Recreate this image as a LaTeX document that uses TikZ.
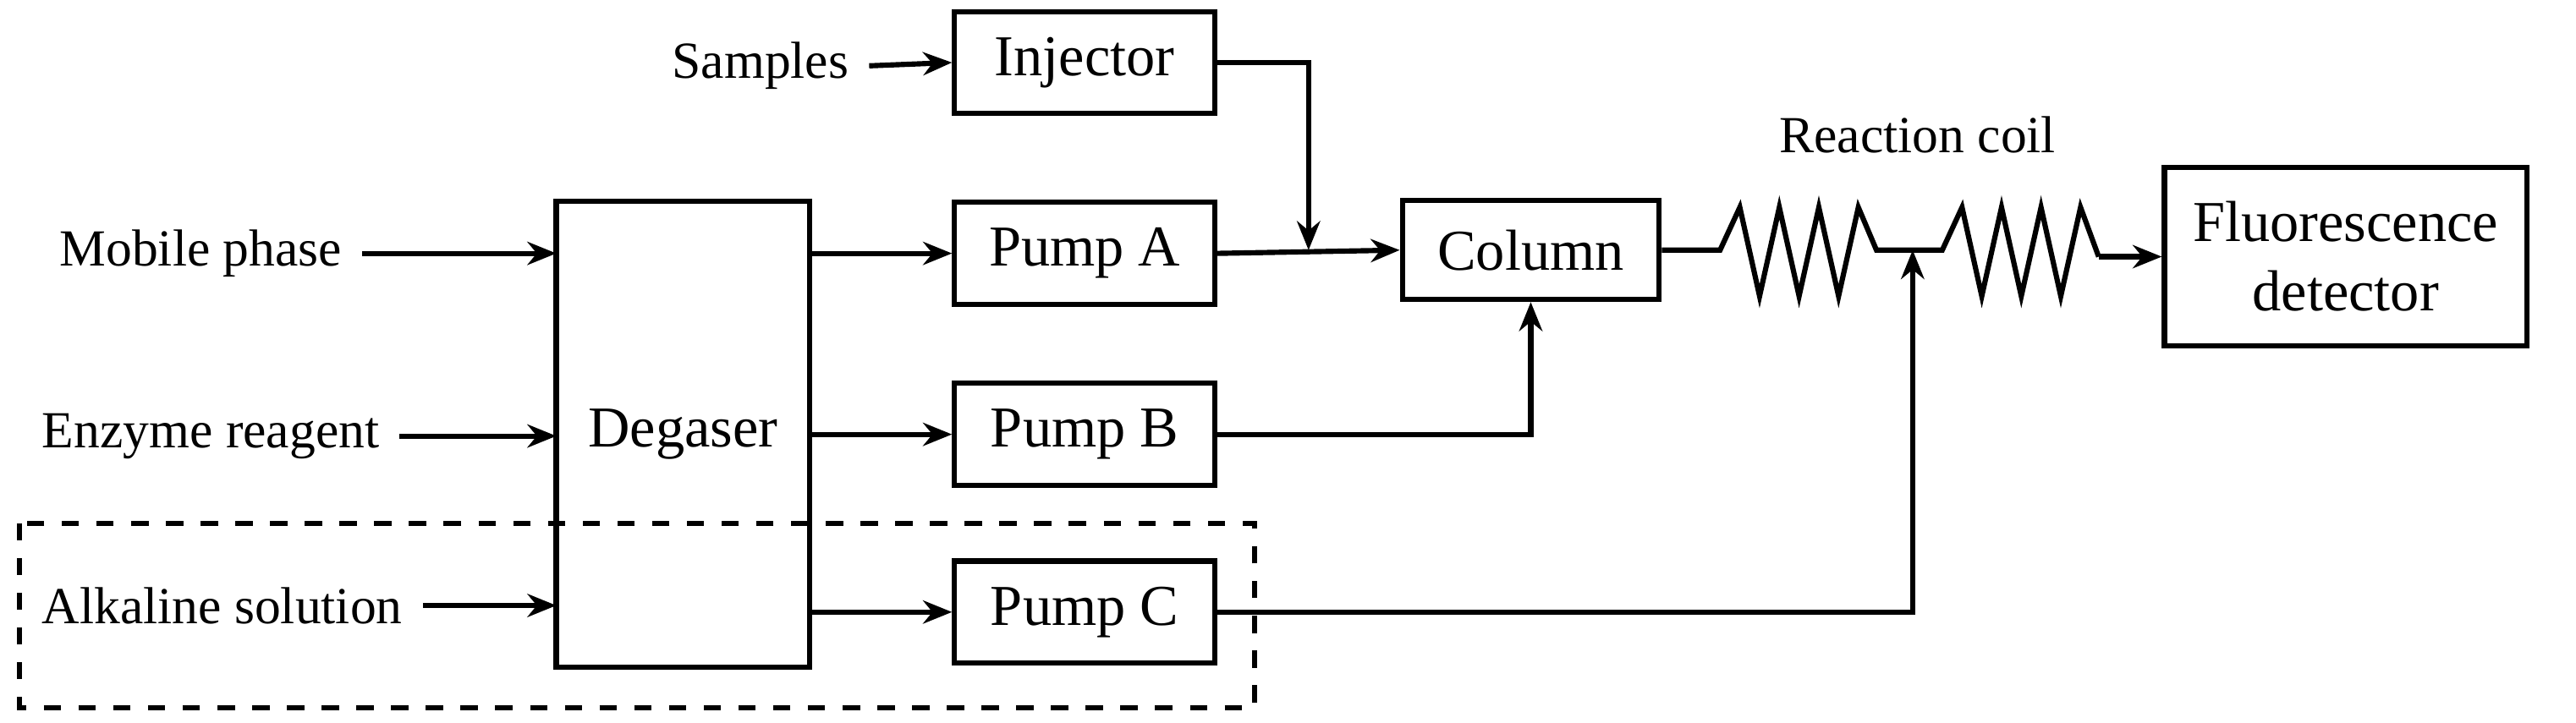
\documentclass[tikz,border=0pt]{standalone}
\usepackage{fontspec}
\setmainfont{Liberation Serif}
\usetikzlibrary{arrows.meta}
\begin{document}
\begin{tikzpicture}[x=0.01cm,y=-0.01cm,
 box/.style={draw,line width=0.9pt,minimum width=1.58cm,minimum height=0.62cm,font=\fontsize{10}{12}\selectfont},
 lab/.style={font=\fontsize{9}{11}\selectfont},
 arr/.style={line width=0.9pt,-{Stealth[length=5pt,width=4pt]}},
 ln/.style={line width=0.9pt}]
\useasboundingbox (0,0) rectangle (1565,439);
\node[box] (inj) at (659,38) {Injector};
\node[box] (pa) at (659,154) {Pump A};
\node[box] (pb) at (659,264) {Pump B};
\node[box] (pc) at (659,372) {Pump C};
\node[box,minimum width=1.54cm,minimum height=2.83cm] (deg) at (415,264) {Degaser};
\node[box,minimum width=1.56cm,minimum height=0.6cm] (col) at (930,152) {Column};
\node[box,minimum width=2.2cm,minimum height=1.08cm,align=center] (fd) at (1425,156) {Fluorescence\\detector};
\draw[ln,dashed] (12,318) rectangle (762,430);
\node[lab] (s) at (462,40) {Samples};
\node[lab] (mp) at (122,154) {Mobile phase};
\node[lab] (er) at (128,265) {Enzyme reagent};
\node[lab] (al) at (135,368) {Alkaline solution};
\node[lab] (rc) at (1165,82) {Reaction coil};
\draw[arr] (s.east) -- (inj.west);
\draw[arr] (mp.east) -- (338,154);
\draw[arr] (er.east) -- (338,265);
\draw[arr] (al.east) -- (338,368);
\draw[arr] (492,154) -- (pa.west);
\draw[arr] (492,264) -- (pb.west);
\draw[arr] (492,372) -- (pc.west);
\draw[arr] (pa.east) -- (col.west);
\coordinate (j1) at (795,152);
\draw[arr] (inj.east) -| (j1);
\draw[arr] (pb.east) -| (col.south);
\coordinate (j2) at (1162,152);
\draw[ln] (col.east) -- (1045,152) -- (1057,126) -- (1069,180) -- (1081,126) -- (1093,180) -- (1105,126) -- (1117,180) -- (1129,126) -- (1140,152) -- (1180,152)
 -- (1192,126) -- (1204,180) -- (1216,126) -- (1228,180) -- (1240,126) -- (1252,180) -- (1264,126) -- (1275,156);
\draw[arr] (1275,156) -- (fd.west);
\draw[arr] (pc.east) -| (j2);
\end{tikzpicture}
\end{document}
